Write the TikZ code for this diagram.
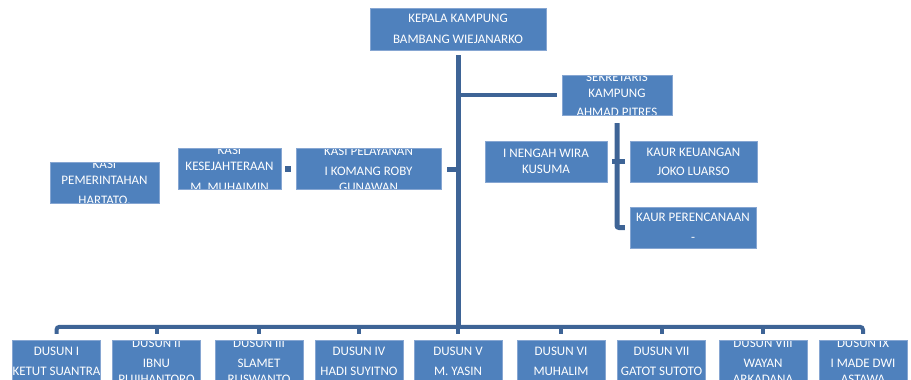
\documentclass[tikz,border=0pt]{standalone}
\usepackage{fontspec}
\setmainfont{Carlito}
\usetikzlibrary{positioning, calc}
\definecolor{boxblue}{HTML}{4F81BD}
\definecolor{edgeblue}{HTML}{86A6D2}
\definecolor{linkblue}{HTML}{3E6496}

\begin{document}
\begin{tikzpicture}[x=1pt, y=-1pt,
    unit/.style 2 args={draw=edgeblue, line width=0.4pt, fill=boxblue, minimum width=#1, minimum height=#2, inner sep=0pt},
    boxtext/.style={text=white, align=center, inner sep=0pt, draw=none, fill=none, font=\fontsize{13}{16}\selectfont},
    clipped/.style={path picture={\node[boxtext] at (path picture bounding box.center) {#1};}},
    link/.style={draw=linkblue, line width=4pt},
  ]
  \useasboundingbox (0,0) rectangle (911,380);

  % Head and secretary
  \node[unit={176pt}{42pt}, clipped={KEPALA KAMPUNG\\[5pt]BAMBANG WIEJANARKO}] (kepala) at (458,29) {};
  \node[unit={110pt}{40pt}, clipped={SEKRETARIS\\KAMPUNG\\[3pt]AHMAD PITRES}] (sekretaris) at (617,95) {};

  % Kasi
  \node[unit={109pt}{41pt}, clipped={KASI\\PEMERINTAHAN\\[4pt]HARTATO.}] (pemerintahan) at (104.5,182.5) {};
  \node[unit={103pt}{41pt}, clipped={KASI\\KESEJAHTERAAN\\[5pt]M. MUHAIMIN}] (kesejahteraan) at (229.5,169) {};
  \node[unit={145pt}{41pt}, clipped={KASI PELAYANAN\\[4pt]I KOMANG ROBY\\GUNAWAN}] (pelayanan) at (368.5,169) {};

  % Kaur
  \node[unit={122pt}{41pt}, clipped={I NENGAH WIRA\\KUSUMA}] (nengah) at (546,161.5) {};
  \node[unit={127pt}{41pt}, clipped={KAUR KEUANGAN\\[3pt]JOKO LUARSO}] (keuangan) at (693.5,161.5) {};
  \node[unit={126pt}{41pt}, clipped={KAUR PERENCANAAN\\[4pt]-}] (perencanaan) at (693,227.5) {};

  % Dusun
  \foreach \cx/\nm/\txt in {56.5/d1/{DUSUN I\\[4pt]KETUT SUANTRA},
      156.5/d2/{DUSUN II\\[4pt]IBNU\\PUJIHANTORO},
      259/d3/{DUSUN III\\[4pt]SLAMET\\RUSWANTO},
      359/d4/{DUSUN IV\\[4pt]HADI SUYITNO},
      458/d5/{DUSUN V\\[4pt]M. YASIN},
      561/d6/{DUSUN VI\\[4pt]MUHALIM},
      661.5/d7/{DUSUN VII\\[4pt]GATOT SUTOTO},
      763/d8/{DUSUN VIII\\[4pt]WAYAN\\ARKADANA},
      863/d9/{DUSUN IX\\[4pt]I MADE DWI\\ASTAWA}}
    \node[unit={88pt}{42pt}, clipped=\txt] (\nm) at (\cx,361) {};

  % Connectors
  \draw[link, line width=5pt] ([yshift=-5pt]kepala.south) -- ([yshift=12pt]d5.north);
  \draw[link] ([xshift=-5pt]sekretaris.west) -- (sekretaris.west -| kepala.south);
  \draw[link, line width=5pt] ([xshift=6pt]pelayanan.east) -- (pelayanan.east -| kepala.south);
  \draw[link, line width=6pt] ([xshift=4pt]kesejahteraan.east) -- ([xshift=-5pt]pelayanan.west);
  \draw[link, line width=5pt, rounded corners=2pt] ([yshift=-8pt]sekretaris.south) |- ([xshift=-5pt]perencanaan.west);
  \draw[link, line width=5pt] ([xshift=5pt]nengah.east) -- ([xshift=-5pt]keuangan.west);
  \draw[link, rounded corners=3pt] ([yshift=6pt]d1.north) -- ([yshift=13pt]d1.north) -| ([yshift=6pt]d9.north);
  \foreach \i in {2,...,8}
    \draw[link] ([yshift=6pt]d\i.north) -- ([yshift=13pt]d\i.north);
\end{tikzpicture}
\end{document}
